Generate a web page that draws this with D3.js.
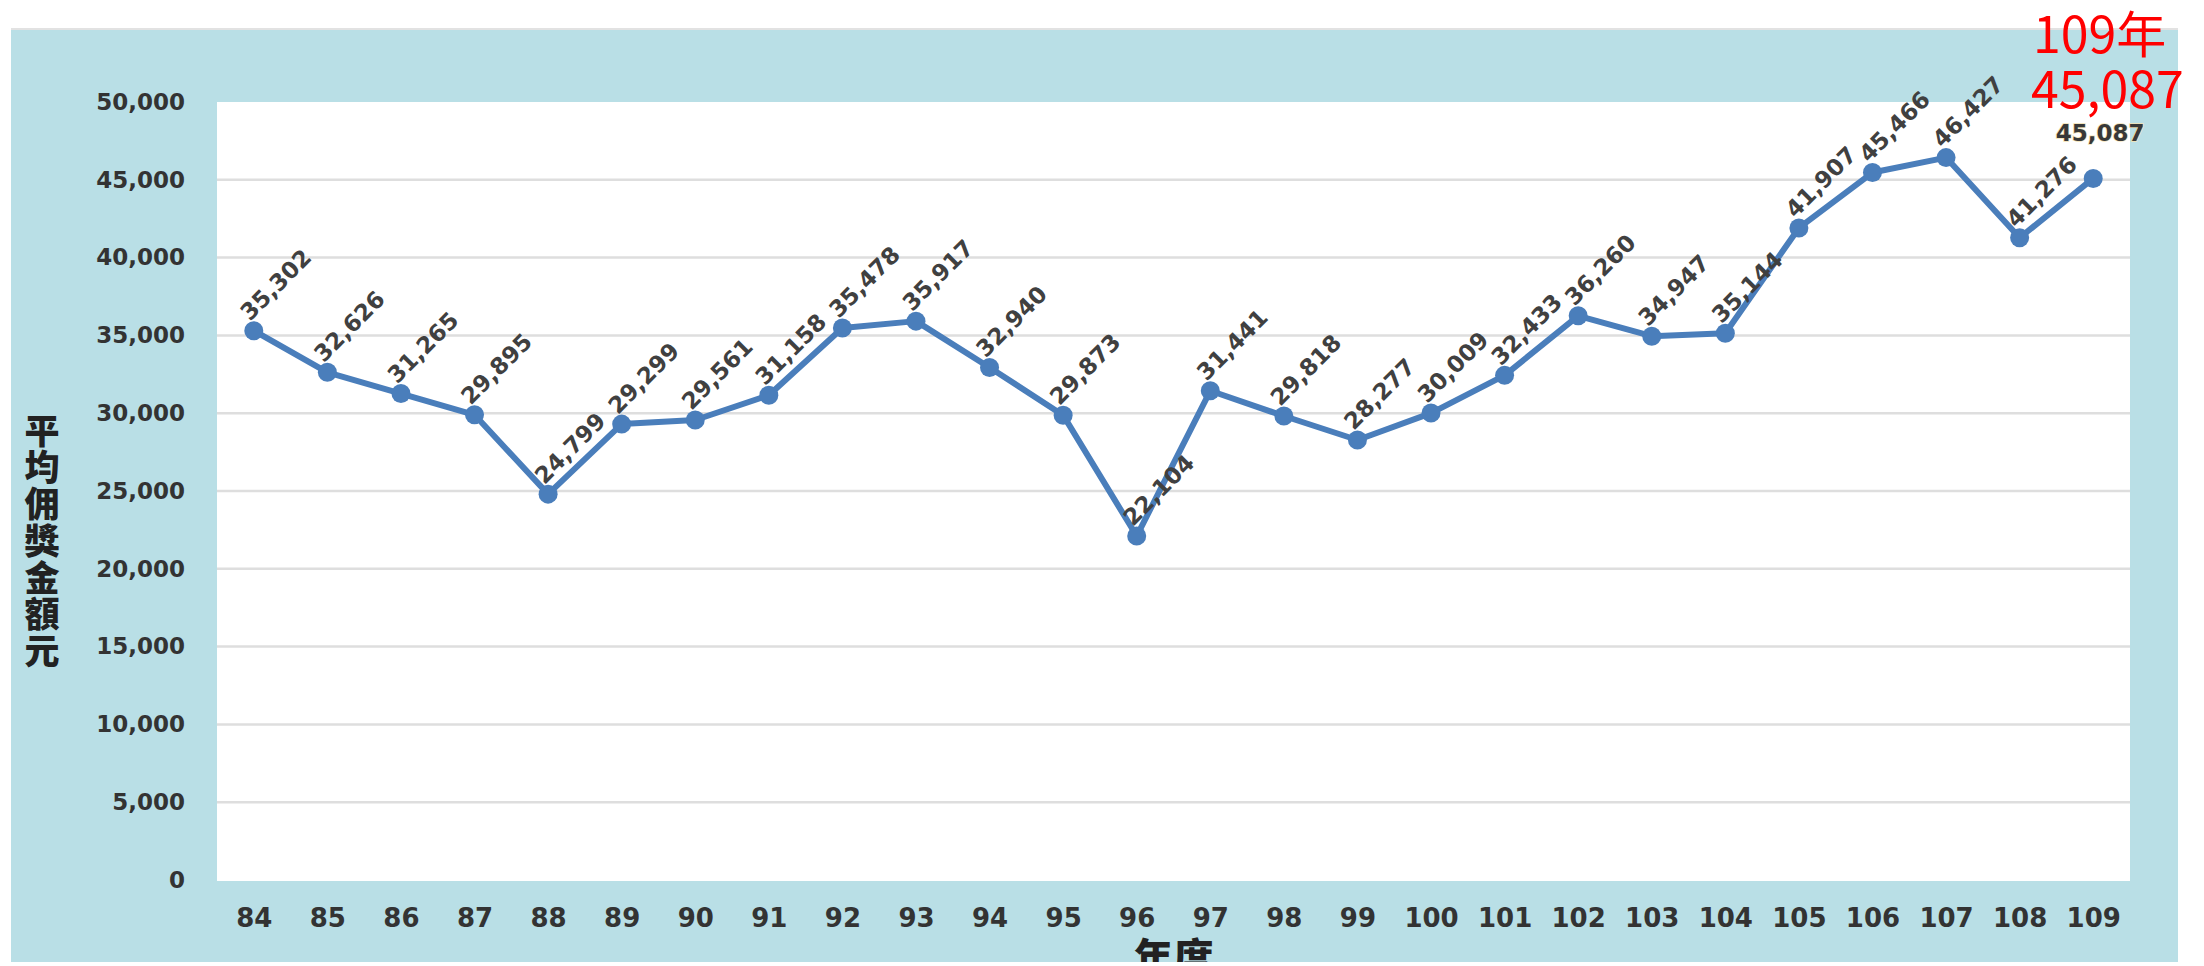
<!DOCTYPE html>
<html>
<head>
<meta charset="utf-8">
<script src="https://cdn.jsdelivr.net/npm/d3@7"></script>
<style>
  html, body { margin: 0; padding: 0; background: #ffffff; }
  svg { display: block; }
</style>
</head>
<body>
<script>
// ---- data ----
const years = ["84","85","86","87","88","89","90","91","92","93","94","95","96","97","98","99","100","101","102","103","104","105","106","107","108","109"];
const amounts = [35302,32626,31265,29895,24799,29299,29561,31158,35478,35917,32940,29873,22104,31441,29818,28277,30009,32433,36260,34947,35144,41907,45466,46427,41276,45087];
const yTicks = [0,5000,10000,15000,20000,25000,30000,35000,40000,45000,50000];
const yTitle = "平均佣獎金額元";
const xTitle = "年度";
const noteLines = ["109年", "45,087"];

// ---- layout ----
const W = 2204, H = 966;
const bg = {x: 11, y: 30, w: 2167, h: 932};
const plot = {left: 217, right: 2130, top: 102, bottom: 881};
const blueBg = "#b9dfe6";
const lineColor = "#4a7ebb";
const numFont = "'DejaVu Sans', Verdana, sans-serif";
const cjkFont = "'Noto Sans CJK TC', 'Noto Sans CJK SC', sans-serif";

const svg = d3.select("body").append("svg")
  .attr("width", W).attr("height", H);

svg.append("rect").attr("width", W).attr("height", H).attr("fill", "#ffffff");

const defs = svg.append("defs");
defs.append("clipPath").attr("id", "bgclip")
  .append("rect").attr("x", bg.x).attr("y", bg.y).attr("width", bg.w).attr("height", bg.h);

svg.append("line").attr("x1", bg.x).attr("x2", bg.x + bg.w)
  .attr("y1", bg.y - 1).attr("y2", bg.y - 1)
  .attr("stroke", "#e2e2e2").attr("stroke-width", 2);

const chart = svg.append("g").attr("clip-path", "url(#bgclip)");
chart.append("rect").attr("x", bg.x).attr("y", bg.y).attr("width", bg.w).attr("height", bg.h)
  .attr("fill", blueBg);

chart.append("rect")
  .attr("x", plot.left).attr("y", plot.top)
  .attr("width", plot.right - plot.left).attr("height", plot.bottom - plot.top)
  .attr("fill", "#ffffff");

const x = d3.scalePoint().domain(years).range([plot.left, plot.right]).padding(0.5);
const y = d3.scaleLinear().domain([0, 50000]).range([880, plot.top]);

// gridlines
chart.append("g").selectAll("line")
  .data(yTicks.filter(t => t > 0 && t < 50000))
  .join("line")
  .attr("x1", plot.left).attr("x2", plot.right)
  .attr("y1", d => y(d)).attr("y2", d => y(d))
  .attr("stroke", "#dedede").attr("stroke-width", 2.5);

// y axis
const yAxis = chart.append("g")
  .attr("transform", `translate(${plot.left},0)`)
  .call(d3.axisLeft(y).tickValues(yTicks).tickFormat(d3.format(",")).tickSize(0).tickPadding(32));
yAxis.select(".domain").remove();
yAxis.selectAll("text")
  .attr("font-family", numFont).attr("font-weight", "bold")
  .attr("font-size", 23).attr("fill", "#333333");

// x axis
const xAxis = chart.append("g")
  .attr("transform", `translate(0,880)`)
  .call(d3.axisBottom(x).tickSize(0).tickPadding(29));
xAxis.select(".domain").remove();
xAxis.selectAll("text")
  .attr("font-family", numFont).attr("font-weight", "bold")
  .attr("font-size", 26).attr("fill", "#333333");

// y title (vertical, upright characters)
chart.append("text")
  .attr("x", 42).attr("y", 413)
  .style("writing-mode", "vertical-rl")
  .style("text-orientation", "upright")
  .style("letter-spacing", "1.7px")
  .attr("font-family", cjkFont).attr("font-weight", 900)
  .attr("font-size", 35).attr("fill", "#222222")
  .text(yTitle);

// x title
chart.append("text")
  .attr("x", (x("96") + x("97")) / 2).attr("y", 972)
  .attr("text-anchor", "middle")
  .attr("font-family", cjkFont).attr("font-weight", 900)
  .attr("font-size", 40).attr("fill", "#222222")
  .text(xTitle);

// line
const data = years.map((yr, i) => ({yr, v: amounts[i], i}));
chart.append("path")
  .datum(data)
  .attr("fill", "none")
  .attr("stroke", lineColor)
  .attr("stroke-width", 6)
  .attr("stroke-linejoin", "round")
  .attr("d", d3.line().x(d => x(d.yr)).y(d => y(d.v)));

chart.append("g").selectAll("circle")
  .data(data).join("circle")
  .attr("cx", d => x(d.yr)).attr("cy", d => y(d.v))
  .attr("r", 9.5).attr("fill", lineColor);

// data labels
const fmt = d3.format(",");
const last = data.length - 1;
chart.append("g").selectAll("text")
  .data(data.filter(d => d.i < last)).join("text")
  .attr("transform", d => `translate(${x(d.yr) + 22},${y(d.v) - 46}) rotate(-45)`)
  .attr("text-anchor", "middle")
  .attr("dominant-baseline", "central")
  .attr("font-family", numFont).attr("font-weight", "bold")
  .attr("font-size", 23).attr("fill", "#404040")
  .text(d => fmt(d.v));

// last label (horizontal)
chart.append("text")
  .datum(data[last])
  .attr("x", d => x(d.yr) + 7).attr("y", d => y(d.v) - 45)
  .attr("text-anchor", "middle")
  .attr("dominant-baseline", "central")
  .attr("font-family", numFont).attr("font-weight", "bold")
  .attr("font-size", 23).attr("fill", "#383838")
  .attr("stroke", "#f3e3b5").attr("stroke-width", 1.5).attr("paint-order", "stroke")
  .text(d => fmt(d.v));

// red annotation
const note = svg.append("text")
  .attr("font-family", cjkFont).attr("font-size", 50).attr("fill", "#ff0000");
note.append("tspan").attr("x", 2033).attr("y", 53).text(noteLines[0]);
note.append("tspan").attr("x", 2031).attr("y", 108).text(noteLines[1]);
</script>
</body>
</html>
